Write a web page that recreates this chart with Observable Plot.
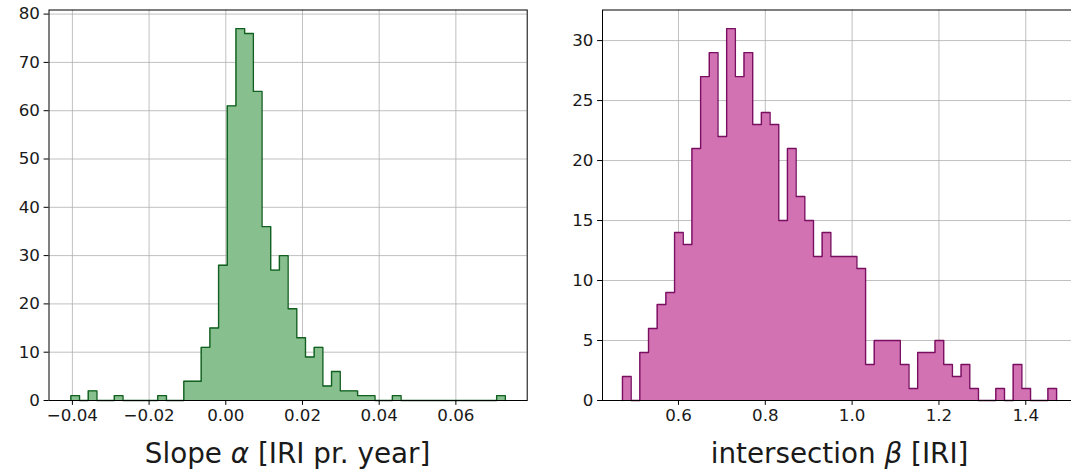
<!DOCTYPE html>
<html>
<head>
<meta charset="utf-8">
<script src="https://cdn.jsdelivr.net/npm/d3@7"></script>
<script src="https://cdn.jsdelivr.net/npm/@observablehq/plot@0.6"></script>
<style>
  html, body { margin: 0; padding: 0; background: #fff; overflow: hidden; }
  #wrap { position: relative; width: 1071px; height: 470px; overflow: hidden; font-family: "DejaVu Sans", sans-serif; }
  .panel { position: absolute; top: 0; width: 540px; height: 430px; }
  .panel svg { max-width: none !important; }
  .xlabel { position: absolute; top: 439.5px; font-size: 27.8px; line-height: 1; color: #1a1a1a; white-space: nowrap; transform: translateX(-50%); }
  .xlabel i { font-style: oblique; }
</style>
</head>
<body>
<div id="wrap">
  <div id="p1" class="panel" style="left:0px"></div>
  <div id="p2" class="panel" style="left:541.7px"></div>
  <div class="xlabel" style="left:287.6px">Slope <i>α</i> [IRI pr. year]</div>
  <div class="xlabel" style="left:839.6px">intersection <i>β</i> [IRI]</div>
</div>
<script>
// Slope alpha histogram (50 bins)
const alphaLo = -0.0404, alphaHi = 0.0729;
const alphaCounts = [1,0,2,0,0,1,0,0,0,0,1,0,0,4,4,11,15,28,61,77,76,64,36,27,30,19,13,9,11,3,6,2,2,1,1,0,0,1,0,0,0,0,0,0,0,0,0,0,0,1];
const alphaXTicks = [-0.04, -0.02, 0.00, 0.02, 0.04, 0.06];
const alphaYTicks = [0, 10, 20, 30, 40, 50, 60, 70, 80];

// Intersection beta histogram (50 bins)
const betaLo = 0.471, betaHi = 1.471;
const betaCounts = [2,0,4,6,8,9,14,13,21,27,29,22,31,27,29,23,24,23,15,21,17,15,12,14,12,12,12,11,3,5,5,5,3,1,4,4,5,3,2,3,1,0,0,1,0,3,1,0,0,1];
const betaXTicks = [0.6, 0.8, 1.0, 1.2, 1.4];
const betaYTicks = [0, 5, 10, 15, 20, 25, 30];

function stepPoints(lo, hi, counts) {
  const n = counts.length, w = (hi - lo) / n;
  const pts = [{x: lo, y: 0}];
  counts.forEach((c, i) => pts.push({x: lo + i * w, y: c}));
  pts.push({x: hi, y: 0});
  return pts;
}

function hist({lo, hi, counts, xDomain, yDomain, xTicks, yTicks, xFmt, fill, stroke, marginLeft, marginRight}) {
  const pts = stepPoints(lo, hi, counts);
  return Plot.plot({
    width: 540,
    height: 430,
    marginLeft, marginRight,
    marginTop: 9.5,
    marginBottom: 30,
    style: {fontFamily: "DejaVu Sans, sans-serif", fontSize: "16.7px", color: "#1a1a1a", background: "transparent", overflow: "visible"},
    x: {domain: xDomain},
    y: {domain: yDomain},
    marks: [
      Plot.gridX(xTicks, {stroke: "#b0b0b0", strokeOpacity: 1, strokeWidth: 0.8}),
      Plot.gridY(yTicks, {stroke: "#b0b0b0", strokeOpacity: 1, strokeWidth: 0.8}),
      Plot.areaY(pts, {x: "x", y: "y", curve: "step-after", fill, fillOpacity: 1}),
      Plot.lineY(pts, {x: "x", y: "y", curve: "step-after", stroke, strokeWidth: 1.4}),
      Plot.frame({stroke: "#000", strokeWidth: 1}),
      Plot.axisX({ticks: xTicks, tickSize: 4.9, tickPadding: 4.2, tickFormat: xFmt, fontSize: 16.7, stroke: "#000", label: null}),
      Plot.axisY({ticks: yTicks, tickSize: 4.9, tickPadding: 4.2, tickFormat: d3.format("d"), fontSize: 16.7, stroke: "#000", label: null})
    ]
  });
}

document.getElementById("p1").appendChild(hist({
  lo: alphaLo, hi: alphaHi, counts: alphaCounts,
  xDomain: [-0.0461, 0.0786], yDomain: [0, 80.85],
  xTicks: alphaXTicks, yTicks: alphaYTicks, xFmt: d3.format(".2f"),
  fill: "#87bf8f", stroke: "#11601f",
  marginLeft: 48.5, marginRight: 13.3
}));

document.getElementById("p2").appendChild(hist({
  lo: betaLo, hi: betaHi, counts: betaCounts,
  xDomain: [0.425, 1.521], yDomain: [0, 32.55],
  xTicks: betaXTicks, yTicks: betaYTicks, xFmt: d3.format(".1f"),
  fill: "#d272b2", stroke: "#7a0f62",
  marginLeft: 60, marginRight: 4.2
}));
</script>
</body>
</html>
